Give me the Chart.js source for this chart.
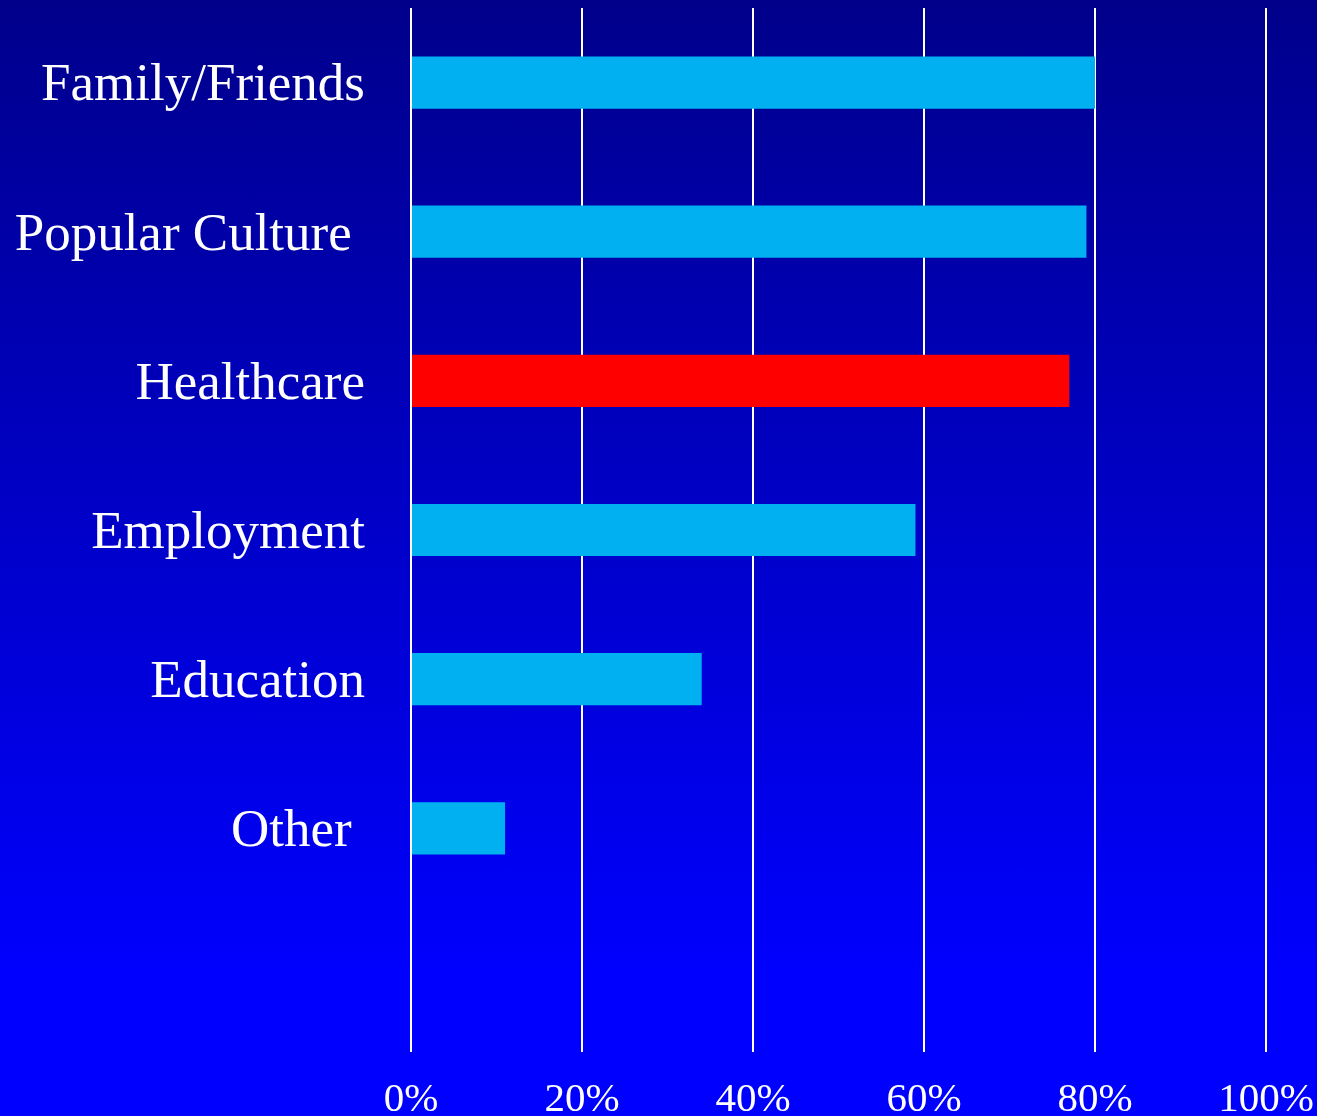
<!DOCTYPE html>
<html>
<head>
<meta charset="utf-8">
<script src="https://cdn.jsdelivr.net/npm/chart.js@4"></script>
<style>
html,body{margin:0;padding:0;width:1317px;height:1116px;overflow:hidden;}
body{background:linear-gradient(to bottom,#00008B 0%,#0000FF 88%,#0000FF 100%);}
#wrap{position:absolute;left:0;top:0;width:1317px;height:1116px;}
</style>
</head>
<body>
<div id="wrap"><canvas id="c" width="1317" height="1116"></canvas></div>
<script>
const categories = ["Family/Friends", "Popular Culture ", "Healthcare", "Employment", "Education", "Other ", ""];
const values = [80, 79, 77, 59, 34, 11, null];
const barColors = ["#00B0F0", "#00B0F0", "#FF0000", "#00B0F0", "#00B0F0", "#00B0F0", "#00B0F0"];
const tickValues = [0, 20, 40, 60, 80, 100];

new Chart(document.getElementById('c'), {
  type: 'bar',
  data: {
    labels: categories,
    datasets: [{
      data: values,
      backgroundColor: barColors,
      borderWidth: 0,
      barPercentage: 0.35,
      categoryPercentage: 1.0
    }]
  },
  options: {
    indexAxis: 'y',
    responsive: false,
    animation: false,
    layout: { padding: { left: 0, right: 51, top: 8, bottom: 0 } },
    plugins: { legend: { display: false }, tooltip: { enabled: false } },
    scales: {
      x: {
        min: 0, max: 100,
        afterBuildTicks: (s) => { s.ticks = tickValues.map(v => ({ value: v })); },
        grid: { color: '#FFFFFF', lineWidth: 2, drawTicks: false },
        border: { display: false },
        ticks: {
          color: '#FFFFFF',
          padding: 24,
          maxRotation: 0,
          font: { family: '"Liberation Serif", "Times New Roman", serif', size: 41 },
          callback: (v) => v + '%'
        },
        afterFit: (s) => { s.height = 64; s.paddingLeft = 0; s.paddingRight = 0; }
      },
      y: {
        grid: { display: false, drawTicks: false },
        border: { display: false },
        ticks: {
          color: '#FFFFFF',
          padding: 46,
          labelOffset: 4,
          font: { family: '"Liberation Serif", "Times New Roman", serif', size: 53 }
        },
        afterFit: (s) => { s.width = 411; s.paddingTop = 0; s.paddingBottom = 0; }
      }
    }
  }
});
</script>
</body>
</html>
